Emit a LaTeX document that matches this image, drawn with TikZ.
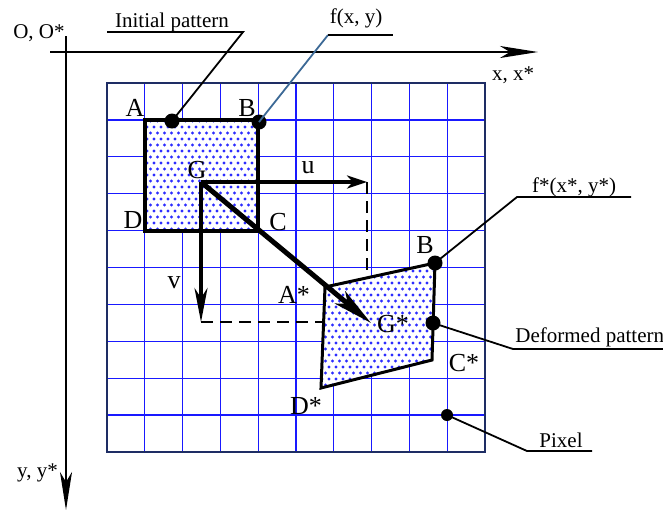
\documentclass[tikz,border=0pt]{standalone}
\usepackage{fontspec}
\setmainfont{Liberation Serif}
\usepackage{xcolor}
\usetikzlibrary{arrows.meta,patterns}

\definecolor{gridblue}{RGB}{25,25,255}
\definecolor{framenavy}{RGB}{30,45,100}
\definecolor{leaderblue}{RGB}{60,105,150}
\definecolor{dotblue}{RGB}{45,45,255}

\pgfdeclarepatternformonly{stagdots}{\pgfqpoint{-1pt}{-1pt}}{\pgfqpoint{5pt}{7pt}}{\pgfqpoint{3.5pt}{6pt}}{
  \pgfpathcircle{\pgfqpoint{0pt}{0pt}}{0.8pt}
  \pgfpathcircle{\pgfqpoint{1.75pt}{3pt}}{0.8pt}
  \pgfusepath{fill}}

\begin{document}
\begin{tikzpicture}[x=0.5pt, y=-0.5pt,
  gridline/.style={gridblue, line width=0.65pt},
  frame/.style={framenavy, line width=1.1pt},
  axis/.style={line width=1.1pt, -{Stealth[length=19pt, width=6pt, inset=5pt]}},
  dotted fill/.style={preaction={fill=white}, pattern=stagdots, pattern color=dotblue},
  shiftarrow/.style={line width=1.7pt},
  mainarrow/.style={line width=2.5pt, -{Stealth[length=20pt, width=8pt, inset=5pt]}},
  dashline/.style={line width=1pt, dash pattern=on 6pt off 3.5pt},
  leader/.style={line width=0.9pt},
  dotmark/.style={circle, fill=black, inner sep=0pt, minimum size=7.5pt},
  biglbl/.style={inner sep=0pt, anchor=base, font=\fontsize{13}{15}\selectfont},
  smalllbl/.style={inner sep=0pt, anchor=base, font=\fontsize{10.5}{12}\selectfont}]
  \useasboundingbox (0,0) rectangle (663,511);

  % axes
  \coordinate (xStart) at (50,52);
  \coordinate (xEnd) at (538,52);
  \coordinate (yStart) at (66,36);
  \coordinate (yEnd) at (66,510);
  \draw[axis] (xStart) -- (xEnd);
  \draw[axis] (yStart) -- (yEnd);
  \node[smalllbl] (origin) at (39,38) {O, O*};
  \node[smalllbl] (xlbl) at (513,80) {x, x*};
  \node[smalllbl] (ylbl) at (37.5,477) {y, y*};

  % pixel grid
  \foreach \k in {1,...,9} {
    \draw[gridline] ({107+37.8*\k},83) -- ({107+37.8*\k},452);
    \draw[gridline] (107,{83+36.9*\k}) -- (485,{83+36.9*\k});
  }
  \draw[frame] (107,83) rectangle (485,452);

  % initial and deformed patterns
  \coordinate (A) at (144.8,119.9);
  \coordinate (B) at (258.2,119.9);
  \coordinate (C) at (258.2,230.6);
  \coordinate (D) at (144.8,230.6);
  \coordinate (As) at (325,287);
  \coordinate (Bs) at (435,263);
  \coordinate (Cs) at (432,360);
  \coordinate (Ds) at (321,388);
  \draw[line width=2pt, dotted fill] (A) -- (B) -- (C) -- (D) -- cycle;
  \draw[line width=1.5pt, dotted fill] (As) -- (Bs) -- (Cs) -- (Ds) -- cycle;

  % displacement
  \coordinate (G) at (201,182);
  \coordinate (Gs) at (371,323);
  \coordinate (uEnd) at (367,182);
  \coordinate (vEnd) at (201,322);
  \coordinate (uFoot) at (367,278);
  \coordinate (vFoot) at (323.5,322);
  \draw[dashline] (uEnd) -- (uFoot);
  \draw[dashline] (vEnd) -- (vFoot);
  \draw[shiftarrow, -{Stealth[length=10pt, width=6.5pt, inset=3pt]}] (G) -- (uEnd);
  \draw[shiftarrow, -{Stealth[length=17pt, width=6.5pt, inset=5pt]}] (G) -- (vEnd);
  \draw[mainarrow] (G) -- (Gs);

  % leaders
  \coordinate (initKnee) at (243,32);
  \coordinate (initEnd) at (107,32);
  \coordinate (fxyKnee) at (328,35);
  \coordinate (fxyEnd) at (393,35);
  \coordinate (fsKnee) at (517,197);
  \coordinate (fsEnd) at (631,197);
  \coordinate (defKnee) at (513,349);
  \coordinate (defEnd) at (663,349);
  \coordinate (pixKnee) at (527,451);
  \coordinate (pixEnd) at (592,451);
  \node[dotmark] (dotA) at (172,121) {};
  \node[dotmark] (dotB) at (259,122) {};
  \node[dotmark] (dotBs) at (435,263) {};
  \node[dotmark] (dotDef) at (433,323) {};
  \node[dotmark, minimum size=6pt] (dotPix) at (447,415) {};
  \draw[leader] (dotA.center) -- (initKnee) -- (initEnd);
  \draw[leader, leaderblue] (dotB.center) -- (fxyKnee);
  \draw[leader] (fxyKnee) -- (fxyEnd);
  \draw[leader] (dotBs.center) -- (fsKnee) -- (fsEnd);
  \draw[leader] (dotDef.center) -- (defKnee) -- (defEnd);
  \draw[leader] (dotPix.center) -- (pixKnee) -- (pixEnd);
  \node[smalllbl] (initTxt) at (172,27) {Initial pattern};
  \node[smalllbl] (fxyTxt) at (356,23) {f(x, y)};
  \node[smalllbl] (fsTxt) at (574,192) {f*(x*, y*)};
  \node[smalllbl, anchor=base west] (defTxt) at (515,342) {Deformed pattern};
  \node[smalllbl] (pixTxt) at (561,447) {Pixel};

  % point labels
  \node[biglbl] (labA) at (135,116) {A};
  \node[biglbl] (labB) at (247,116) {B};
  \node[biglbl] (labG) at (197,178) {G};
  \node[biglbl] (labD) at (133,228) {D};
  \node[biglbl] (labC) at (278,230) {C};
  \node[biglbl] (labu) at (308,173) {u};
  \node[biglbl] (labv) at (174,288) {v};
  \node[biglbl] (labAs) at (294,303) {A*};
  \node[biglbl] (labGs) at (393,332) {G*};
  \node[biglbl] (labBs) at (425,253) {B};
  \node[biglbl] (labCs) at (464,371) {C*};
  \node[biglbl] (labDs) at (306,414) {D*};
\end{tikzpicture}
\end{document}
